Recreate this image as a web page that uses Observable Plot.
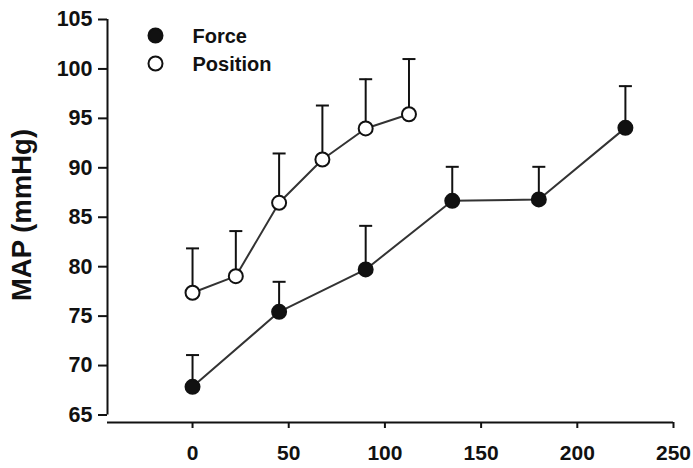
<!DOCTYPE html>
<html>
<head>
<meta charset="utf-8">
<script src="https://cdn.jsdelivr.net/npm/d3@7"></script>
<script src="https://cdn.jsdelivr.net/npm/@observablehq/plot@0.6"></script>
<style>
  html, body { margin: 0; padding: 0; background: #fff; }
  #chart { width: 693px; height: 468px; }
</style>
</head>
<body>
<div id="chart"></div>
<script>
// ---- data ----
const seriesNames = ["Force", "Position"];
const forceX = [0, 45, 90, 135, 180, 225];
const forceY = [67.85, 75.43, 79.72, 86.66, 86.8, 94.04];
const forceErrTop = [71.06, 78.47, 84.13, 90.1, 90.1, 98.26];
const posX = [0, 22.5, 45, 67.5, 90, 112.5];
const posY = [77.36, 79.04, 86.46, 90.84, 93.98, 95.42];
const posErrTop = [81.85, 83.6, 91.45, 96.3, 98.96, 101.0];
const yTicks = [65, 70, 75, 80, 85, 90, 95, 100, 105];
const xTicks = [0, 50, 100, 150, 200, 250];
const yLabel = "MAP (mmHg)";

// ---- build tables ----
const force = forceX.map((x, i) => ({x, y: forceY[i], top: forceErrTop[i], s: seriesNames[0]}));
const position = posX.map((x, i) => ({x, y: posY[i], top: posErrTop[i], s: seriesNames[1]}));

const xMin = -44.2, xMax = 250;
const yMin = 64.24, yMax = 105;
const ink = "#111";
const font = "'Liberation Sans', Arial, sans-serif";

const capSymbol = {
  draw(context) {
    context.moveTo(-6.5, 0);
    context.lineTo(6.5, 0);
  }
};

const legendFills = [ink, "white"];
const legendMarks = seriesNames.flatMap((name, i) => [
  Plot.dot([name], {frameAnchor: "top-left", dx: 48, dy: 16 + 28 * i, r: 7, fill: legendFills[i], stroke: ink, strokeWidth: 2}),
  Plot.text([name], {frameAnchor: "top-left", dx: 85, dy: 17 + 28 * i, textAnchor: "start", lineAnchor: "middle", fontSize: 20, fontWeight: "bold", fontFamily: font, fill: ink})
]);

const chart = Plot.plot({
  width: 693,
  height: 468,
  marginLeft: 107,
  marginRight: 20,
  marginTop: 19,
  marginBottom: 46,
  style: {fontFamily: font, fontSize: "21px", fontWeight: "bold", color: ink, background: "white"},
  x: {domain: [xMin, xMax]},
  y: {domain: [yMin, yMax]},
  marks: [
    // axes
    Plot.ruleX([xMin], {y1: yTicks[0], y2: yTicks[yTicks.length - 1], stroke: ink, strokeWidth: 2}),
    Plot.ruleY([yMin], {x1: xMin, x2: xMax, stroke: ink, strokeWidth: 2}),
    Plot.axisY({ticks: yTicks, tickSize: 9, tickPadding: 6, label: null, stroke: ink, strokeWidth: 2, fill: ink, fontSize: 21.5, fontWeight: "bold", fontFamily: font}),
    Plot.axisX({ticks: xTicks, tickSize: 6, tickPadding: 17, label: null, stroke: ink, strokeWidth: 2, fill: ink, fontSize: 21, fontWeight: "bold", fontFamily: font}),
    Plot.text([yLabel], {frameAnchor: "left", textAnchor: "middle", lineAnchor: "middle", rotate: -90, dx: -85, dy: -6, fontSize: 27.5, fontWeight: "bold", fontFamily: font, fill: ink}),
    // error bars
    Plot.ruleX(force, {x: "x", y1: "y", y2: "top", stroke: ink, strokeWidth: 2}),
    Plot.ruleX(position, {x: "x", y1: "y", y2: "top", stroke: ink, strokeWidth: 2}),
    Plot.dot(force, {x: "x", y: "top", symbol: capSymbol, stroke: ink, strokeWidth: 2, r: 5}),
    Plot.dot(position, {x: "x", y: "top", symbol: capSymbol, stroke: ink, strokeWidth: 2, r: 5}),
    // lines
    Plot.line(force, {x: "x", y: "y", stroke: "#333", strokeWidth: 2}),
    Plot.line(position, {x: "x", y: "y", stroke: "#333", strokeWidth: 2}),
    // points
    Plot.dot(force, {x: "x", y: "y", r: 7, fill: ink, stroke: ink, strokeWidth: 2}),
    Plot.dot(position, {x: "x", y: "y", r: 7, fill: "white", stroke: ink, strokeWidth: 2}),
    // legend
    ...legendMarks
  ]
});
document.getElementById("chart").appendChild(chart);
</script>
</body>
</html>
